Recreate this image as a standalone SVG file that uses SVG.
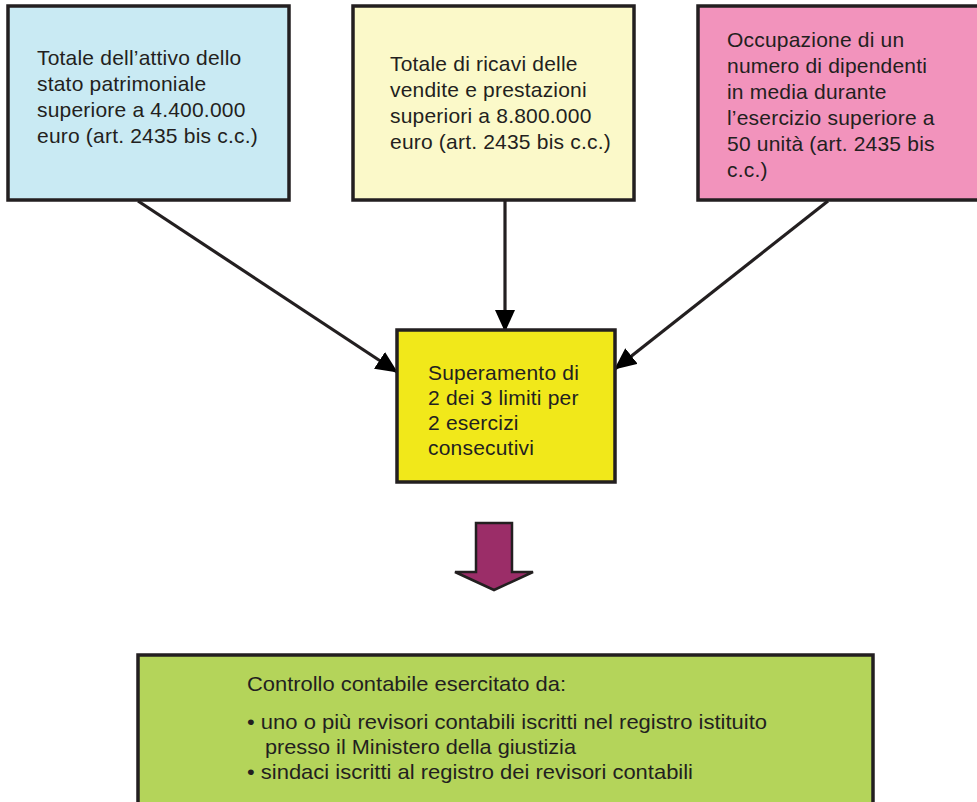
<svg xmlns="http://www.w3.org/2000/svg" width="977" height="802" viewBox="0 0 977 802">
<style>
.box{stroke:#231f20;stroke-width:3.5}
.t{font-family:"Liberation Sans",Arial,Helvetica,sans-serif;font-size:21px;fill:#231f20;letter-spacing:0.2px}
.g{font-family:"Liberation Sans",Arial,Helvetica,sans-serif;font-size:21px;fill:#231f20}
.conn{stroke:#231f20;stroke-width:3.2;fill:none}
</style>
<defs>
<marker id="ah" viewBox="0 0 22 20" refX="21" refY="10" markerWidth="22" markerHeight="20" markerUnits="userSpaceOnUse" orient="auto">
<path d="M0,0 L22,10 L0,20 Z" fill="#000"/>
</marker>
</defs>
<rect width="977" height="802" fill="#fff"/>
<g id="connectors">
<line class="conn" x1="138" y1="201" x2="397" y2="372" marker-end="url(#ah)"/>
<line class="conn" x1="505" y1="201" x2="505" y2="331" marker-end="url(#ah)"/>
<line class="conn" x1="828" y1="201" x2="615" y2="369" marker-end="url(#ah)"/>
<path id="bigarrow" d="M476,523 L512,523 L512,572 L533,572 L494,590 L455,572 L476,572 Z" fill="#9b2d68" stroke="#231f20" stroke-width="2.5" stroke-linejoin="miter"/>
</g>
<g id="node1">
<rect class="box" x="8" y="6" width="281" height="194" fill="#c9eaf3"/>
<text class="t" x="37" y="65">Totale dell’attivo dello</text>
<text class="t" x="37" y="91">stato patrimoniale</text>
<text class="t" x="37" y="117">superiore a 4.400.000</text>
<text class="t" x="37" y="143">euro (art. 2435 bis c.c.)</text>
</g>
<g id="node2">
<rect class="box" x="353" y="6" width="281" height="194" fill="#fbf9c9"/>
<text class="t" x="390" y="71">Totale di ricavi delle</text>
<text class="t" x="390" y="97">vendite e prestazioni</text>
<text class="t" x="390" y="123">superiori a 8.800.000</text>
<text class="t" x="390" y="149">euro (art. 2435 bis c.c.)</text>
</g>
<g id="node3">
<path d="M980,6 L698,6 L698,200 L980,200" fill="#f293bc" class="box"/>
<text class="t" x="727" y="47">Occupazione di un</text>
<text class="t" x="727" y="73">numero di dipendenti</text>
<text class="t" x="727" y="99">in media durante</text>
<text class="t" x="727" y="125">l’esercizio superiore a</text>
<text class="t" x="727" y="151">50 unità (art. 2435 bis</text>
<text class="t" x="727" y="177">c.c.)</text>
</g>
<g id="node4">
<rect class="box" x="397" y="330" width="218" height="152" fill="#f1e81a"/>
<text class="t" x="428" y="380">Superamento di</text>
<text class="t" x="428" y="405">2 dei 3 limiti per</text>
<text class="t" x="428" y="430">2 esercizi</text>
<text class="t" x="428" y="455">consecutivi</text>
</g>
<g id="node5">
<path d="M138,806 L138,655 L873,655 L873,806" fill="#b4d45a" class="box"/>
<text class="g" x="247" y="691" textLength="319" lengthAdjust="spacingAndGlyphs">Controllo contabile esercitato da:</text>
<text class="g" x="247" y="729" textLength="520" lengthAdjust="spacingAndGlyphs">• uno o più revisori contabili iscritti nel registro istituito</text>
<text class="g" x="265" y="754" textLength="311" lengthAdjust="spacingAndGlyphs">presso il Ministero della giustizia</text>
<text class="g" x="247" y="779" textLength="446" lengthAdjust="spacingAndGlyphs">• sindaci iscritti al registro dei revisori contabili</text>
</g>
</svg>
